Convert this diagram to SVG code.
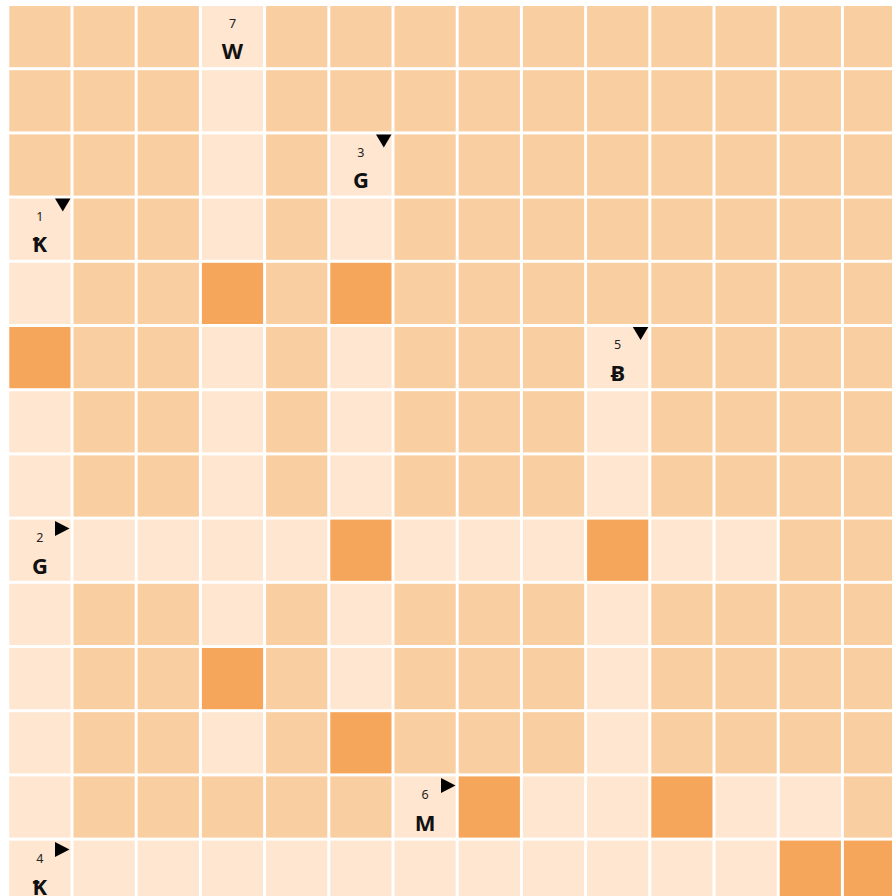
<svg xmlns="http://www.w3.org/2000/svg" width="892" height="896" viewBox="0 0 892 896">
<style>
.m{fill:#F9CEA1}.l{fill:#FEE6D0}.o{fill:#F5A65B}
.n{font-family:"Noto Sans","DejaVu Sans",sans-serif;font-size:12.5px;fill:#222;text-anchor:middle}
.t{font-family:"Noto Sans","DejaVu Sans",sans-serif;font-size:22px;font-weight:bold;fill:#111;text-anchor:middle}
.tri{fill:#000}
</style>
<rect width="892" height="896" fill="#fff"/>
<defs>
<rect id="c" width="61.2" height="61.2"/>
<path id="dn" d="M-15.5 0H0L-7.7 13Z"/>
<path id="ac" d="M-14.5 1.5L0 9 -14.5 16.5Z"/>
</defs>
<g id="grid">
<g id="r0"><use href="#c" class="m" x="9.3" y="6"/><use href="#c" class="m" x="73.5" y="6"/><use href="#c" class="m" x="137.7" y="6"/><use href="#c" class="l" x="201.9" y="6"/><use href="#c" class="m" x="266.1" y="6"/><use href="#c" class="m" x="330.3" y="6"/><use href="#c" class="m" x="394.5" y="6"/><use href="#c" class="m" x="458.7" y="6"/><use href="#c" class="m" x="522.9" y="6"/><use href="#c" class="m" x="587.1" y="6"/><use href="#c" class="m" x="651.3" y="6"/><use href="#c" class="m" x="715.5" y="6"/><use href="#c" class="m" x="779.7" y="6"/><use href="#c" class="m" x="843.9" y="6"/></g>
<g id="r1"><use href="#c" class="m" x="9.3" y="70.2"/><use href="#c" class="m" x="73.5" y="70.2"/><use href="#c" class="m" x="137.7" y="70.2"/><use href="#c" class="l" x="201.9" y="70.2"/><use href="#c" class="m" x="266.1" y="70.2"/><use href="#c" class="m" x="330.3" y="70.2"/><use href="#c" class="m" x="394.5" y="70.2"/><use href="#c" class="m" x="458.7" y="70.2"/><use href="#c" class="m" x="522.9" y="70.2"/><use href="#c" class="m" x="587.1" y="70.2"/><use href="#c" class="m" x="651.3" y="70.2"/><use href="#c" class="m" x="715.5" y="70.2"/><use href="#c" class="m" x="779.7" y="70.2"/><use href="#c" class="m" x="843.9" y="70.2"/></g>
<g id="r2"><use href="#c" class="m" x="9.3" y="134.4"/><use href="#c" class="m" x="73.5" y="134.4"/><use href="#c" class="m" x="137.7" y="134.4"/><use href="#c" class="l" x="201.9" y="134.4"/><use href="#c" class="m" x="266.1" y="134.4"/><use href="#c" class="l" x="330.3" y="134.4"/><use href="#c" class="m" x="394.5" y="134.4"/><use href="#c" class="m" x="458.7" y="134.4"/><use href="#c" class="m" x="522.9" y="134.4"/><use href="#c" class="m" x="587.1" y="134.4"/><use href="#c" class="m" x="651.3" y="134.4"/><use href="#c" class="m" x="715.5" y="134.4"/><use href="#c" class="m" x="779.7" y="134.4"/><use href="#c" class="m" x="843.9" y="134.4"/></g>
<g id="r3"><use href="#c" class="l" x="9.3" y="198.6"/><use href="#c" class="m" x="73.5" y="198.6"/><use href="#c" class="m" x="137.7" y="198.6"/><use href="#c" class="l" x="201.9" y="198.6"/><use href="#c" class="m" x="266.1" y="198.6"/><use href="#c" class="l" x="330.3" y="198.6"/><use href="#c" class="m" x="394.5" y="198.6"/><use href="#c" class="m" x="458.7" y="198.6"/><use href="#c" class="m" x="522.9" y="198.6"/><use href="#c" class="m" x="587.1" y="198.6"/><use href="#c" class="m" x="651.3" y="198.6"/><use href="#c" class="m" x="715.5" y="198.6"/><use href="#c" class="m" x="779.7" y="198.6"/><use href="#c" class="m" x="843.9" y="198.6"/></g>
<g id="r4"><use href="#c" class="l" x="9.3" y="262.8"/><use href="#c" class="m" x="73.5" y="262.8"/><use href="#c" class="m" x="137.7" y="262.8"/><use href="#c" class="o" x="201.9" y="262.8"/><use href="#c" class="m" x="266.1" y="262.8"/><use href="#c" class="o" x="330.3" y="262.8"/><use href="#c" class="m" x="394.5" y="262.8"/><use href="#c" class="m" x="458.7" y="262.8"/><use href="#c" class="m" x="522.9" y="262.8"/><use href="#c" class="m" x="587.1" y="262.8"/><use href="#c" class="m" x="651.3" y="262.8"/><use href="#c" class="m" x="715.5" y="262.8"/><use href="#c" class="m" x="779.7" y="262.8"/><use href="#c" class="m" x="843.9" y="262.8"/></g>
<g id="r5"><use href="#c" class="o" x="9.3" y="327"/><use href="#c" class="m" x="73.5" y="327"/><use href="#c" class="m" x="137.7" y="327"/><use href="#c" class="l" x="201.9" y="327"/><use href="#c" class="m" x="266.1" y="327"/><use href="#c" class="l" x="330.3" y="327"/><use href="#c" class="m" x="394.5" y="327"/><use href="#c" class="m" x="458.7" y="327"/><use href="#c" class="m" x="522.9" y="327"/><use href="#c" class="l" x="587.1" y="327"/><use href="#c" class="m" x="651.3" y="327"/><use href="#c" class="m" x="715.5" y="327"/><use href="#c" class="m" x="779.7" y="327"/><use href="#c" class="m" x="843.9" y="327"/></g>
<g id="r6"><use href="#c" class="l" x="9.3" y="391.2"/><use href="#c" class="m" x="73.5" y="391.2"/><use href="#c" class="m" x="137.7" y="391.2"/><use href="#c" class="l" x="201.9" y="391.2"/><use href="#c" class="m" x="266.1" y="391.2"/><use href="#c" class="l" x="330.3" y="391.2"/><use href="#c" class="m" x="394.5" y="391.2"/><use href="#c" class="m" x="458.7" y="391.2"/><use href="#c" class="m" x="522.9" y="391.2"/><use href="#c" class="l" x="587.1" y="391.2"/><use href="#c" class="m" x="651.3" y="391.2"/><use href="#c" class="m" x="715.5" y="391.2"/><use href="#c" class="m" x="779.7" y="391.2"/><use href="#c" class="m" x="843.9" y="391.2"/></g>
<g id="r7"><use href="#c" class="l" x="9.3" y="455.4"/><use href="#c" class="m" x="73.5" y="455.4"/><use href="#c" class="m" x="137.7" y="455.4"/><use href="#c" class="l" x="201.9" y="455.4"/><use href="#c" class="m" x="266.1" y="455.4"/><use href="#c" class="l" x="330.3" y="455.4"/><use href="#c" class="m" x="394.5" y="455.4"/><use href="#c" class="m" x="458.7" y="455.4"/><use href="#c" class="m" x="522.9" y="455.4"/><use href="#c" class="l" x="587.1" y="455.4"/><use href="#c" class="m" x="651.3" y="455.4"/><use href="#c" class="m" x="715.5" y="455.4"/><use href="#c" class="m" x="779.7" y="455.4"/><use href="#c" class="m" x="843.9" y="455.4"/></g>
<g id="r8"><use href="#c" class="l" x="9.3" y="519.6"/><use href="#c" class="l" x="73.5" y="519.6"/><use href="#c" class="l" x="137.7" y="519.6"/><use href="#c" class="l" x="201.9" y="519.6"/><use href="#c" class="l" x="266.1" y="519.6"/><use href="#c" class="o" x="330.3" y="519.6"/><use href="#c" class="l" x="394.5" y="519.6"/><use href="#c" class="l" x="458.7" y="519.6"/><use href="#c" class="l" x="522.9" y="519.6"/><use href="#c" class="o" x="587.1" y="519.6"/><use href="#c" class="l" x="651.3" y="519.6"/><use href="#c" class="l" x="715.5" y="519.6"/><use href="#c" class="m" x="779.7" y="519.6"/><use href="#c" class="m" x="843.9" y="519.6"/></g>
<g id="r9"><use href="#c" class="l" x="9.3" y="583.8"/><use href="#c" class="m" x="73.5" y="583.8"/><use href="#c" class="m" x="137.7" y="583.8"/><use href="#c" class="l" x="201.9" y="583.8"/><use href="#c" class="m" x="266.1" y="583.8"/><use href="#c" class="l" x="330.3" y="583.8"/><use href="#c" class="m" x="394.5" y="583.8"/><use href="#c" class="m" x="458.7" y="583.8"/><use href="#c" class="m" x="522.9" y="583.8"/><use href="#c" class="l" x="587.1" y="583.8"/><use href="#c" class="m" x="651.3" y="583.8"/><use href="#c" class="m" x="715.5" y="583.8"/><use href="#c" class="m" x="779.7" y="583.8"/><use href="#c" class="m" x="843.9" y="583.8"/></g>
<g id="r10"><use href="#c" class="l" x="9.3" y="648"/><use href="#c" class="m" x="73.5" y="648"/><use href="#c" class="m" x="137.7" y="648"/><use href="#c" class="o" x="201.9" y="648"/><use href="#c" class="m" x="266.1" y="648"/><use href="#c" class="l" x="330.3" y="648"/><use href="#c" class="m" x="394.5" y="648"/><use href="#c" class="m" x="458.7" y="648"/><use href="#c" class="m" x="522.9" y="648"/><use href="#c" class="l" x="587.1" y="648"/><use href="#c" class="m" x="651.3" y="648"/><use href="#c" class="m" x="715.5" y="648"/><use href="#c" class="m" x="779.7" y="648"/><use href="#c" class="m" x="843.9" y="648"/></g>
<g id="r11"><use href="#c" class="l" x="9.3" y="712.2"/><use href="#c" class="m" x="73.5" y="712.2"/><use href="#c" class="m" x="137.7" y="712.2"/><use href="#c" class="l" x="201.9" y="712.2"/><use href="#c" class="m" x="266.1" y="712.2"/><use href="#c" class="o" x="330.3" y="712.2"/><use href="#c" class="m" x="394.5" y="712.2"/><use href="#c" class="m" x="458.7" y="712.2"/><use href="#c" class="m" x="522.9" y="712.2"/><use href="#c" class="l" x="587.1" y="712.2"/><use href="#c" class="m" x="651.3" y="712.2"/><use href="#c" class="m" x="715.5" y="712.2"/><use href="#c" class="m" x="779.7" y="712.2"/><use href="#c" class="m" x="843.9" y="712.2"/></g>
<g id="r12"><use href="#c" class="l" x="9.3" y="776.4"/><use href="#c" class="m" x="73.5" y="776.4"/><use href="#c" class="m" x="137.7" y="776.4"/><use href="#c" class="m" x="201.9" y="776.4"/><use href="#c" class="m" x="266.1" y="776.4"/><use href="#c" class="m" x="330.3" y="776.4"/><use href="#c" class="l" x="394.5" y="776.4"/><use href="#c" class="o" x="458.7" y="776.4"/><use href="#c" class="l" x="522.9" y="776.4"/><use href="#c" class="l" x="587.1" y="776.4"/><use href="#c" class="o" x="651.3" y="776.4"/><use href="#c" class="l" x="715.5" y="776.4"/><use href="#c" class="l" x="779.7" y="776.4"/><use href="#c" class="m" x="843.9" y="776.4"/></g>
<g id="r13"><use href="#c" class="l" x="9.3" y="840.6"/><use href="#c" class="l" x="73.5" y="840.6"/><use href="#c" class="l" x="137.7" y="840.6"/><use href="#c" class="l" x="201.9" y="840.6"/><use href="#c" class="l" x="266.1" y="840.6"/><use href="#c" class="l" x="330.3" y="840.6"/><use href="#c" class="l" x="394.5" y="840.6"/><use href="#c" class="l" x="458.7" y="840.6"/><use href="#c" class="l" x="522.9" y="840.6"/><use href="#c" class="l" x="587.1" y="840.6"/><use href="#c" class="l" x="651.3" y="840.6"/><use href="#c" class="l" x="715.5" y="840.6"/><use href="#c" class="o" x="779.7" y="840.6"/><use href="#c" class="o" x="843.9" y="840.6"/></g>
</g>
<g id="clues">
<g id="clue7"><text class="n" x="232.5" y="28">7</text><text class="t" x="232.5" y="59">W</text></g>
<g id="clue3"><text class="n" x="360.9" y="156.5">3</text><text class="t" x="360.9" y="188">G</text><use href="#dn" class="tri" x="391.5" y="134.4"/></g>
<g id="clue1"><text class="n" x="39.9" y="220.5">1</text><text class="t" x="39.9" y="252">Ꝁ</text><use href="#dn" class="tri" x="70.5" y="198.6"/></g>
<g id="clue5"><text class="n" x="617.7" y="349">5</text><text class="t" x="617.7" y="380.5">Ƀ</text><use href="#dn" class="tri" x="648.3" y="327"/></g>
<g id="clue2"><text class="n" x="39.9" y="542">2</text><text class="t" x="39.9" y="574">G</text><use href="#ac" class="tri" x="69.5" y="519.6"/></g>
<g id="clue6"><text class="n" x="425.1" y="798.5">6</text><text class="t" x="425.1" y="830.5">M</text><use href="#ac" class="tri" x="455.5" y="776.4"/></g>
<g id="clue4"><text class="n" x="39.9" y="862.5">4</text><text class="t" x="39.9" y="894.5">Ꝁ</text><use href="#ac" class="tri" x="69.5" y="840.6"/></g>
</g>
</svg>
